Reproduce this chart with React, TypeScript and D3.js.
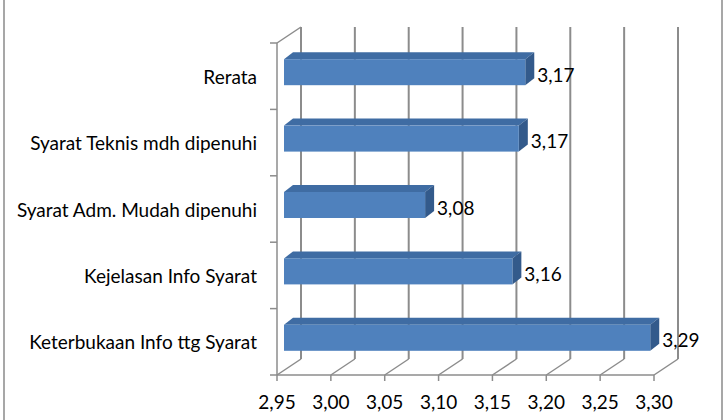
import React, { useEffect, useRef } from 'react';
import * as d3 from 'd3';

const categories = [
  'Rerata',
  'Syarat Teknis mdh dipenuhi',
  'Syarat Adm. Mudah dipenuhi',
  'Kejelasan Info Syarat',
  'Keterbukaan Info ttg Syarat',
];
const values = [3.174, 3.168, 3.081, 3.162, 3.29];
const valueLabels = ['3,17', '3,17', '3,08', '3,16', '3,29'];
const ticks = [2.95, 3.0, 3.05, 3.1, 3.15, 3.2, 3.25, 3.3];
const tickLabels = ['2,95', '3,00', '3,05', '3,10', '3,15', '3,20', '3,25', '3,30'];

const W = 726;
const H = 420;
const FONT = 'Lato, "Open Sans", sans-serif';

function BarChart3D() {
  const ref = useRef<SVGSVGElement>(null);

  useEffect(() => {
    const svg = d3.select(ref.current);
    svg.selectAll('*').remove();

    const x = d3.scaleLinear().domain([2.95, 3.3]).range([277, 654]);
    const y = d3.scaleBand().domain(categories).range([43, 375]);
    const depth = { dx: 24, dy: -16 }; // floor depth
    const barOff = { dx: 7, dy: -4 }; // bar front face offset
    const barDepth = { dx: 9, dy: -7 };
    const barH = 26;
    const grid = '#8c8c8c';

    // outer frame
    svg.append('rect')
      .attr('x', 4).attr('y', -4).attr('width', 718).attr('height', 430)
      .attr('fill', 'white').attr('stroke', '#8a8a8a').attr('stroke-width', 1.5);

    const g = svg.append('g');
    const y0 = 375;
    const yTop = 43;

    // back wall gridlines
    g.selectAll('.back').data(ticks).enter().append('line')
      .attr('x1', (d) => x(d) + depth.dx).attr('x2', (d) => x(d) + depth.dx)
      .attr('y1', yTop + depth.dy).attr('y2', y0 + depth.dy)
      .attr('stroke', grid).attr('stroke-width', 2);

    // floor depth lines
    g.selectAll('.floor').data(ticks).enter().append('line')
      .attr('x1', (d) => x(d)).attr('x2', (d) => x(d) + depth.dx)
      .attr('y1', y0).attr('y2', y0 + depth.dy)
      .attr('stroke', grid).attr('stroke-width', 1.5);

    // front floor line + ticks
    g.append('line').attr('x1', x(2.95)).attr('x2', x(3.3)).attr('y1', y0).attr('y2', y0)
      .attr('stroke', grid).attr('stroke-width', 1.5);
    g.selectAll('.xt').data(ticks).enter().append('line')
      .attr('x1', (d) => x(d)).attr('x2', (d) => x(d))
      .attr('y1', y0).attr('y2', y0 + 6)
      .attr('stroke', grid).attr('stroke-width', 1.5);

    // left wall
    g.append('line').attr('x1', 277).attr('x2', 277).attr('y1', yTop).attr('y2', y0)
      .attr('stroke', grid).attr('stroke-width', 1.5);
    g.append('line').attr('x1', 277).attr('x2', 277 + depth.dx).attr('y1', yTop).attr('y2', yTop + depth.dy)
      .attr('stroke', grid).attr('stroke-width', 1.5);
    const bounds = [...categories.map((c) => y(c) as number), 375];
    g.selectAll('.yt').data(bounds).enter().append('line')
      .attr('x1', 270).attr('x2', 277).attr('y1', (d) => d).attr('y2', (d) => d)
      .attr('stroke', grid).attr('stroke-width', 1.5);

    // bars
    const bars = g.selectAll('.bar').data(categories).enter().append('g');
    const fx0 = x(2.95) + barOff.dx;
    bars.each(function (c, i) {
      const b = d3.select(this);
      const cy = (y(c) as number) + y.bandwidth() / 2 + barOff.dy;
      const top = cy - barH / 2;
      const bot = cy + barH / 2;
      const fx1 = x(values[i]) + barOff.dx;
      // top face
      b.append('path')
        .attr('d', `M${fx0},${top}L${fx0 + barDepth.dx},${top + barDepth.dy}L${fx1 + barDepth.dx},${top + barDepth.dy}L${fx1},${top}Z`)
        .attr('fill', '#3f6ca3');
      // side face
      b.append('path')
        .attr('d', `M${fx1},${top}L${fx1 + barDepth.dx},${top + barDepth.dy}L${fx1 + barDepth.dx},${bot + barDepth.dy}L${fx1},${bot}Z`)
        .attr('fill', '#335a8b');
      // front face
      b.append('rect')
        .attr('x', fx0).attr('y', top).attr('width', fx1 - fx0).attr('height', barH)
        .attr('fill', '#4f81bd');
      b.append('text')
        .attr('x', fx1 + barDepth.dx + 3).attr('y', cy + 2)
        .attr('dominant-baseline', 'central')
        .style('font-family', FONT).style('font-size', '19px').attr('fill', '#000')
        .text(valueLabels[i]);
    });

    // category labels
    g.selectAll('.cat').data(categories).enter().append('text')
      .attr('x', 257).attr('y', (d) => (y(d) as number) + y.bandwidth() / 2)
      .attr('text-anchor', 'end').attr('dominant-baseline', 'central')
      .style('font-family', FONT).style('font-size', '19px').attr('fill', '#000')
      .text((d) => d);

    // tick labels
    g.selectAll('.tl').data(ticks).enter().append('text')
      .attr('x', (d) => x(d)).attr('y', 401)
      .attr('text-anchor', 'middle').attr('dominant-baseline', 'central')
      .style('font-family', FONT).style('font-size', '19px').attr('fill', '#000')
      .text((d, i) => tickLabels[i]);
  }, []);

  return (
    <svg ref={ref} width={W} height={H}
      style={{ position: 'absolute', left: 0, top: 0, background: 'white' }} />
  );
}

export default function App() {
  return <BarChart3D />;
}
